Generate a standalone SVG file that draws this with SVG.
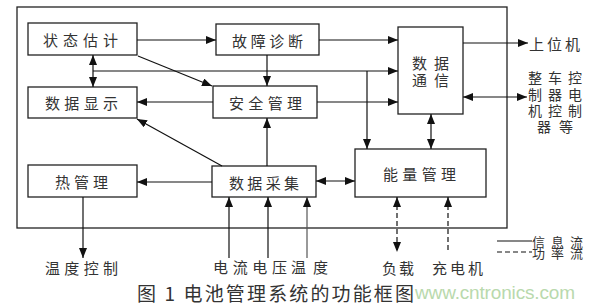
<svg xmlns="http://www.w3.org/2000/svg" width="595" height="306" viewBox="0 0 595 306">
<defs>
<marker id="arr" viewBox="0 0 10 8" refX="10" refY="4" markerWidth="10" markerHeight="8" markerUnits="userSpaceOnUse" orient="auto-start-reverse">
<path d="M0,0 L10,4 L0,8 z" fill="#111"/>
</marker>
<style>
.bg{fill:#ffffff}
.box{fill:#ffffff;stroke:#222;stroke-width:1.3}
.frame{fill:none;stroke:#222;stroke-width:1.3}
.t{font-family:"Noto Sans CJK SC","Noto Sans",sans-serif;font-size:15px;fill:#333;dominant-baseline:central}
.cap{font-family:"Noto Sans CJK SC","Noto Sans",sans-serif;font-size:19px;fill:#333;dominant-baseline:central}
.wm{font-family:"Liberation Sans",Arial,sans-serif;font-size:19px;fill:#b9d9ad;dominant-baseline:central}
.ln{fill:none;stroke:#111;stroke-width:1.2}
.e{marker-end:url(#arr)}
.b{marker-start:url(#arr);marker-end:url(#arr)}
.d{stroke-dasharray:5,3}
</style>
</defs>
<rect class="bg" x="0" y="0" width="595" height="306"/>
<rect class="frame" x="17" y="7" width="490" height="221"/>

<g id="n-state"><rect class="box" x="28" y="23" width="109" height="32"/><text class="t" x="43" y="39" textLength="75" lengthAdjust="spacing">状态估计</text></g>
<g id="n-fault"><rect class="box" x="216" y="24" width="103" height="31"/><text class="t" x="232" y="40" textLength="71" lengthAdjust="spacing">故障诊断</text></g>
<g id="n-display"><rect class="box" x="28" y="87" width="109" height="31"/><text class="t" x="45" y="102" textLength="73" lengthAdjust="spacing">数据显示</text></g>
<g id="n-safety"><rect class="box" x="213" y="86" width="104" height="32"/><text class="t" x="229" y="102" textLength="73" lengthAdjust="spacing">安全管理</text></g>
<g id="n-comm"><rect class="box" x="398" y="27" width="65" height="87"/><text class="t"><tspan x="412" y="62" textLength="37" lengthAdjust="spacing">数据</tspan><tspan x="412" y="79" textLength="37" lengthAdjust="spacing">通信</tspan></text></g>
<g id="n-thermal"><rect class="box" x="28" y="165" width="109" height="32"/><text class="t" x="55" y="181" textLength="53" lengthAdjust="spacing">热管理</text></g>
<g id="n-acq"><rect class="box" x="212" y="166" width="104" height="31"/><text class="t" x="229" y="182" textLength="70" lengthAdjust="spacing">数据采集</text></g>
<g id="n-energy"><rect class="box" x="355" y="149" width="131" height="48"/><text class="t" x="383" y="173" textLength="73" lengthAdjust="spacing">能量管理</text></g>

<g id="connectors">
<path class="ln e" d="M137,40 H216"/>
<path class="ln e" d="M138,56 L212,86"/>
<path class="ln b" d="M93,55 V87"/>
<path class="ln e" d="M93,71 H398"/>
<path class="ln e" d="M367,71 V149"/>
<path class="ln e" d="M319,40 H398"/>
<path class="ln e" d="M267,55 V86"/>
<path class="ln e" d="M213,102 H137"/>
<path class="ln e" d="M317,102 H398"/>
<path class="ln e" d="M267,166 V118"/>
<path class="ln e" d="M222,166 L137,119"/>
<path class="ln e" d="M212,182 H137"/>
<path class="ln b" d="M316,181 H355"/>
<path class="ln b" d="M431,114 V149"/>
<path class="ln e" d="M463,43 H528"/>
<path class="ln b" d="M463,97 H527"/>
<path class="ln e" d="M83,197 V258"/>
<path class="ln e" d="M229,258 V197"/>
<path class="ln e" d="M268,258 V197"/>
<path class="ln e" d="M307,258 V197" style="stroke:#555"/>
<path class="ln b d" d="M397,197 V252"/>
<path class="ln e d" d="M448,250 V197"/>
<path class="ln" d="M497,241 H532"/>
<path class="ln d" d="M497,252 H532"/>
</g>

<g id="labels">
<text class="t" x="529" y="43" textLength="51" lengthAdjust="spacing">上位机</text>
<text class="t" style="font-size:14px"><tspan x="528" y="77" textLength="54" lengthAdjust="spacing">整车控</tspan><tspan x="528" y="94" textLength="54" lengthAdjust="spacing">制器电</tspan><tspan x="528" y="110" textLength="54" lengthAdjust="spacing">机控制</tspan><tspan x="537" y="126" textLength="36" lengthAdjust="spacing">器等</tspan></text>
<text class="t" x="45" y="267" textLength="73" lengthAdjust="spacing">温度控制</text>
<text class="t" x="213" y="266" textLength="74" lengthAdjust="spacing">电流电压</text>
<text class="t" x="291" y="266" textLength="37" lengthAdjust="spacing">温度</text>
<text class="t" x="382" y="267" textLength="32" lengthAdjust="spacing">负载</text>
<text class="t" x="432" y="267" textLength="51" lengthAdjust="spacing">充电机</text>
<text class="t" style="font-size:13px"><tspan x="532" y="241" textLength="51" lengthAdjust="spacing">信息流</tspan><tspan x="532" y="252" textLength="51" lengthAdjust="spacing">功率流</tspan></text>
<text class="cap" x="137" y="292" textLength="277" lengthAdjust="spacing">图 1 电池管理系统的功能框图</text>
<text class="wm" x="415" y="292" textLength="160" lengthAdjust="spacing">www.cntronics.com</text>
</g>
</svg>
